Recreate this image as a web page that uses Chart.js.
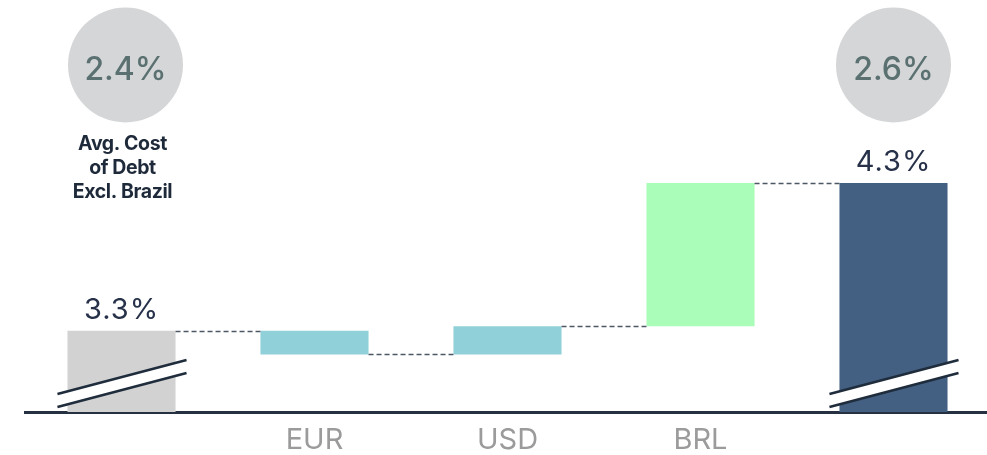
<!DOCTYPE html>
<html>
<head>
<meta charset="utf-8">
<script src="https://cdn.jsdelivr.net/npm/chart.js@4"></script>
<style>
  html, body { margin: 0; padding: 0; background: #ffffff; overflow: hidden; }
  #wrap { width: 990px; height: 455px; }
</style>
</head>
<body>
<div id="wrap"><canvas id="bridgeChart"></canvas></div>
<script>
// Data
const categories = ['', 'EUR', 'USD', 'BRL', ''];
const startValue = 3.3;
const deltas = [-0.16, 0.19, 0.97];   // EUR, USD, BRL
const endValue = 4.3;
const axisFloor = 2.75;               // broken axis, bars start here
const barLabels = ['3.3%', '', '', '', '4.3%'];
const circleLabels = ['2.4%', '', '', '', '2.6%'];
const noteLines = ['Avg. Cost', 'of Debt', 'Excl. Brazil'];
const barColors = ['#d2d2d2', '#8fd0d9', '#8fd0d9', '#a9fdb9', '#436083'];

// Floating bars for the bridge
const levels = [startValue];
deltas.forEach(d => levels.push(levels[levels.length - 1] + d));
const floating = [[axisFloor, startValue]];
for (let i = 0; i < deltas.length; i++) {
    floating.push([levels[i], levels[i + 1]]);
}
floating.push([axisFloor, endValue]);

const FONT = 'Inter, "Open Sans", Roboto, sans-serif';

// Dashed connectors, break marks, labels and circles
const bridgeDecor = {
    id: 'bridgeDecor',
    afterDatasetsDraw(chart) {
        const ctx = chart.ctx;
        const y = chart.scales.y;
        const bars = chart.getDatasetMeta(0).data;
        const axisY = chart.chartArea.bottom;

        // connectors
        ctx.save();
        ctx.strokeStyle = '#4d5766';
        ctx.lineWidth = 1.3;
        ctx.setLineDash([5, 3]);
        for (let i = 0; i < bars.length - 1; i++) {
            const py = Math.round(y.getPixelForValue(levels[i])) + 0.5;
            ctx.beginPath();
            ctx.moveTo(bars[i].x + bars[i].width / 2, py);
            ctx.lineTo(bars[i + 1].x - bars[i + 1].width / 2, py);
            ctx.stroke();
        }
        ctx.restore();

        // break marks on first and last bar
        [0, bars.length - 1].forEach(i => {
            const b = bars[i];
            const x0 = b.x - b.width / 2 - 10;
            const x1 = b.x + b.width / 2 + 11;
            const ya = axisY - 18, yb = axisY - 52, gap = 13;
            ctx.save();
            ctx.fillStyle = '#ffffff';
            ctx.beginPath();
            ctx.moveTo(x0, ya);
            ctx.lineTo(x1, yb);
            ctx.lineTo(x1, yb + gap);
            ctx.lineTo(x0, ya + gap);
            ctx.closePath();
            ctx.fill();
            ctx.strokeStyle = '#1f2c3c';
            ctx.lineWidth = 2.5;
            ctx.beginPath();
            ctx.moveTo(x0, ya); ctx.lineTo(x1, yb);
            ctx.moveTo(x0, ya + gap); ctx.lineTo(x1, yb + gap);
            ctx.stroke();
            ctx.restore();
        });

        // value labels above the totals
        ctx.save();
        ctx.fillStyle = '#27324a';
        ctx.font = '400 29px ' + FONT;
        ctx.textAlign = 'center';
        ctx.textBaseline = 'alphabetic';
        ctx.letterSpacing = '1px';
        barLabels.forEach((t, i) => {
            if (!t) return;
            ctx.fillText(t, bars[i].x, bars[i].y - 12);
        });
        ctx.restore();

        // circles with cost figures
        circleLabels.forEach((t, i) => {
            if (!t) return;
            const cx = bars[i].x + (i === 0 ? 4 : 0);
            ctx.save();
            ctx.fillStyle = '#d5d6d8';
            ctx.beginPath();
            ctx.arc(cx, 65, 57.5, 0, Math.PI * 2);
            ctx.fill();
            ctx.fillStyle = '#5b7171';
            ctx.font = '500 32px ' + FONT;
            ctx.textAlign = 'center';
            ctx.textBaseline = 'alphabetic';
            ctx.fillText(t, cx, 80);
            ctx.restore();
        });

        // note under the first circle
        ctx.save();
        ctx.fillStyle = '#1e2a3a';
        ctx.font = '700 19.5px ' + FONT;
        ctx.textAlign = 'center';
        ctx.letterSpacing = '-0.4px';
        noteLines.forEach((t, i) => {
            ctx.fillText(t, bars[0].x + 1, 150 + i * 24);
        });
        ctx.restore();
    }
};

const ctx = document.getElementById('bridgeChart').getContext('2d');
const bridgeChart = new Chart(ctx, {
    type: 'bar',
    data: {
        labels: categories,
        datasets: [{
            data: floating,
            backgroundColor: barColors,
            borderWidth: 0,
            borderSkipped: false,
            barPercentage: 0.56,
            categoryPercentage: 1
        }]
    },
    options: {
        responsive: true,
        maintainAspectRatio: false,
        animation: false,
        layout: { padding: { left: 25, right: 0, top: 0, bottom: 0 } },
        plugins: {
            legend: { display: false },
            tooltip: { enabled: false }
        },
        scales: {
            x: {
                offset: true,
                afterFit: (scale) => { scale.height = 43; },
                grid: { display: false, drawTicks: false },
                border: { display: true, color: '#253040', width: 3 },
                ticks: {
                    color: '#9b9b9b',
                    padding: 14,
                    font: { family: FONT, size: 29, weight: '400', lineHeight: 1 }
                }
            },
            y: {
                display: false,
                min: axisFloor,
                max: 5.54
            }
        }
    },
    plugins: [bridgeDecor]
});
</script>
</body>
</html>
